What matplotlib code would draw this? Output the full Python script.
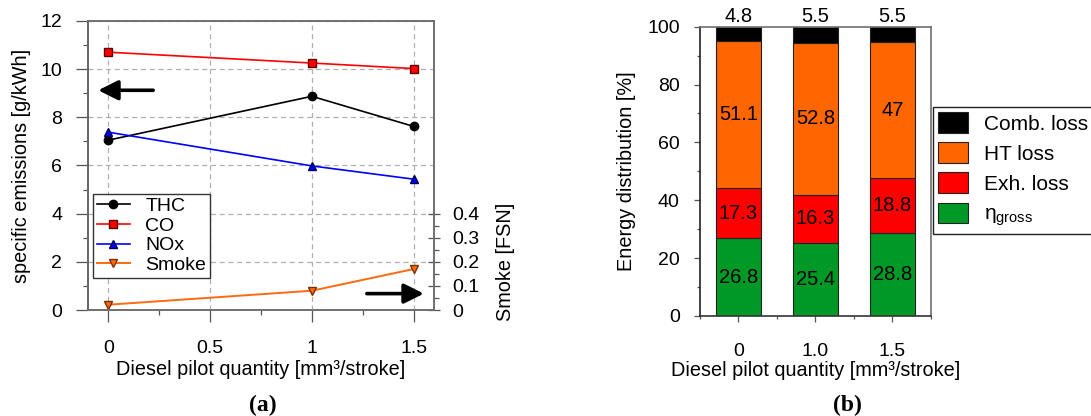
import numpy as np
import matplotlib
matplotlib.use("Agg")
import matplotlib.pyplot as plt
from matplotlib.ticker import MultipleLocator, FixedLocator

plt.rcParams["font.family"] = ["Liberation Sans", "DejaVu Sans"]
plt.rcParams["mathtext.fontset"] = "custom"
plt.rcParams["mathtext.rm"] = "Liberation Sans"
plt.rcParams["mathtext.it"] = "Liberation Sans:italic"

# (a) emissions vs pilot quantity
pilot = [0.0, 1.0, 1.5]
thc = [7.05, 8.87, 7.62]
co = [10.70, 10.25, 10.02]
nox = [7.38, 5.98, 5.43]
smoke = [0.022, 0.080, 0.170]

# (b) energy distribution
pilot_labels = ["0", "1.0", "1.5"]
eta_gross = [26.8, 25.4, 28.8]
exh_loss = [17.3, 16.3, 18.8]
ht_loss = [51.1, 52.8, 47.0]
comb_loss = [4.8, 5.5, 5.5]

XLABEL = "Diesel pilot quantity [mm\u00b3/stroke]"
FRAME = "#707070"
TICKC = "#555555"

fig = plt.figure(figsize=(10.91, 4.16), dpi=100)

# =========================================================================== #
# panel (a)
# =========================================================================== #
ax = fig.add_axes([0.0807, 0.2548, 0.3171, 0.695])
ax2 = ax.twinx()

ax.grid(True, which="major", ls=(0, (4, 3)), color="#b0b0b0", lw=0.9)
ax.set_axisbelow(True)

l1, = ax.plot(pilot, thc, "-o", color="black", ms=6, lw=1.2, mec="black", label="THC")
l2, = ax.plot(pilot, co, "-s", color="red", mfc="red", mec="#600000", ms=6, lw=1.2, label="CO")
l3, = ax.plot(pilot, nox, "-^", color="blue", mfc="blue", mec="#000050", ms=6, lw=1.2, label="NOx")
l4, = ax2.plot(pilot, smoke, "-v", color="#ff6a10", mfc="#ff6a10", mec="#7a3000", ms=6, lw=1.4, label="Smoke")

ax.set_xlim(-0.1, 1.6)
ax.set_ylim(0, 12)
ax2.set_ylim(0, 1.2)
ax.xaxis.set_major_locator(FixedLocator([0, 0.5, 1, 1.5]))
ax.xaxis.set_minor_locator(MultipleLocator(0.25))
ax.set_xticklabels(["0", "0.5", "1", "1.5"])
ax.yaxis.set_major_locator(MultipleLocator(2))
ax.yaxis.set_minor_locator(MultipleLocator(1))
ax2.yaxis.set_major_locator(FixedLocator([0, 0.1, 0.2, 0.3, 0.4]))
ax2.yaxis.set_minor_locator(FixedLocator([0.05, 0.15, 0.25, 0.35]))
ax2.set_yticklabels(["0", "0.1", "0.2", "0.3", "0.4"])

ax.tick_params(axis="both", which="major", direction="out", labelsize=14, length=8.5, width=0.9, color=TICKC)
ax.tick_params(axis="both", which="minor", direction="out", length=3.6, width=0.9, color=TICKC)
ax.tick_params(axis="x", which="major", pad=13)
ax.tick_params(axis="y", which="major", pad=10)
ax2.tick_params(axis="y", which="major", direction="inout", labelsize=14, length=8, width=0.9, color=TICKC, pad=9.5)
ax2.tick_params(axis="y", which="minor", direction="out", length=3.5, width=0.9, color=TICKC)
for sp in list(ax.spines.values()) + list(ax2.spines.values()):
  sp.set_color(FRAME)
  sp.set_linewidth(1.2)
ax.spines["left"].set_color("#222222")

ax.set_ylabel("specific emissions [g/kWh]", fontsize=14.3, labelpad=7)
ax.set_xlabel(XLABEL, fontsize=14.3, labelpad=2)
ax2.set_ylabel("Smoke [FSN]", fontsize=14.3)
ax2.yaxis.set_label_coords(1.18, 0.166)

# direction arrows
arrow_kw = dict(arrowstyle="-|>,head_length=0.6,head_width=0.3", lw=2.6,
                color="black", mutation_scale=20, shrinkA=0, shrinkB=0)
ax.annotate("", xy=(-0.05, 9.12), xytext=(0.22, 9.12), arrowprops=arrow_kw)
ax.annotate("", xy=(1.55, 0.68), xytext=(1.27, 0.68), arrowprops=arrow_kw)

leg = ax2.legend(handles=[l1, l2, l3, l4], loc="upper left", bbox_to_anchor=(0.014, 0.402),
                 fontsize=14, handlelength=1.7, handletextpad=0.8, labelspacing=0.1,
                 borderpad=0.2, borderaxespad=0, fancybox=False, framealpha=1)
leg.get_frame().set_edgecolor("#333333")
leg.get_frame().set_linewidth(1.0)

fig.text(0.2405, 0.012, "(a)", fontsize=17, fontweight="bold", ha="center",
         family=["Liberation Serif", "DejaVu Serif"])

# =========================================================================== #
# panel (b)
# =========================================================================== #
bx = fig.add_axes([0.6416, 0.2404, 0.2117, 0.6955])
xpos = np.arange(len(pilot_labels))
width = 0.584
colors = ["#009926", "#ff0000", "#ff6600", "#000000"]
stack = [eta_gross, exh_loss, ht_loss, comb_loss]
names = [r"$\mathrm{\eta}_{\mathrm{gross}}$", "Exh. loss", "HT loss", "Comb. loss"]

bottom = np.zeros(len(pilot_labels))
bars = []
for vals, col, name in zip(stack, colors, names):
  b = bx.bar(xpos, vals, width, bottom=bottom, color=col, edgecolor="#222222", lw=0.8, label=name)
  bars.append(b)
  if col != "#000000":
    for x, v, b0 in zip(xpos, vals, bottom):
      bx.text(x, b0 + v / 2, f"{v:g}", ha="center", va="center", fontsize=14.5)
  bottom = bottom + np.array(vals)

for x, v in zip(xpos, comb_loss):
  bx.text(x, 100.3, f"{v:g}", ha="center", va="bottom", fontsize=14.5)

bx.set_xlim(-0.5, 2.5)
bx.set_ylim(0, 100)
bx.set_xticks(xpos)
bx.set_xticklabels(pilot_labels)
bx.xaxis.set_minor_locator(FixedLocator([-0.5, 0.5, 1.5, 2.5]))
bx.yaxis.set_major_locator(MultipleLocator(20))
bx.yaxis.set_minor_locator(MultipleLocator(10))
bx.tick_params(axis="both", which="major", direction="out", labelsize=14, length=4.5, width=0.9, color=TICKC)
bx.tick_params(axis="x", which="major", pad=15)
bx.tick_params(axis="y", which="major", pad=10)
bx.tick_params(axis="both", which="minor", direction="out", length=2.5, width=0.9, color=TICKC)
for sp in bx.spines.values():
  sp.set_color(FRAME)
  sp.set_linewidth(1.2)
bx.spines["left"].set_color("#222222")
bx.spines["bottom"].set_color("#333333")
bx.set_ylabel("Energy distribution [%]", fontsize=14.3, labelpad=8)
bx.set_xlabel(XLABEL, fontsize=14.3, labelpad=1)

handles = bars[::-1]
leg2 = fig.legend(handles=handles, labels=names[::-1], loc="upper left",
                  bbox_to_anchor=(933 / 1091, 1 - 107 / 416), fontsize=15,
                  handlelength=1.45, handleheight=1.15, handletextpad=0.75,
                  labelspacing=0.42, borderpad=0.25, borderaxespad=0,
                  fancybox=False, framealpha=1)
leg2.get_frame().set_edgecolor("#222222")
leg2.get_frame().set_linewidth(1.0)

fig.text(0.777, 0.012, "(b)", fontsize=17, fontweight="bold", ha="center",
         family=["Liberation Serif", "DejaVu Serif"])

fig.savefig("out.png", dpi=100)
